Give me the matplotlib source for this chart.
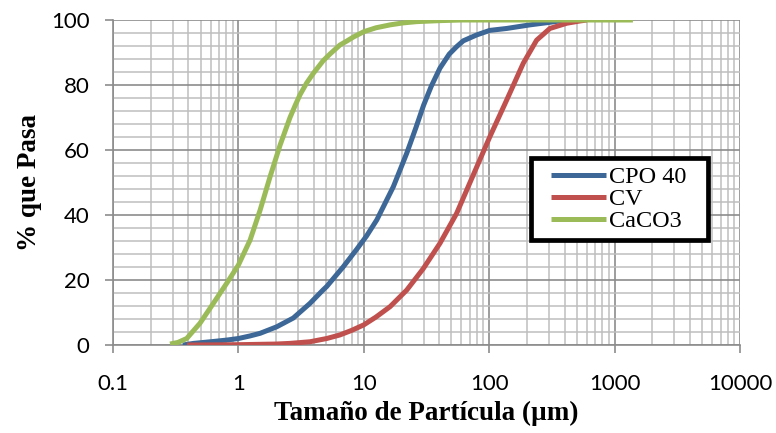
import matplotlib
matplotlib.use('Agg')
import matplotlib.pyplot as plt
from matplotlib.patches import Rectangle
from matplotlib.ticker import FixedLocator, LogLocator, NullFormatter

# Curvas granulométricas: tamaño (µm) y % que pasa
cpo_x = [0.36, 0.44, 0.6, 0.8, 1.0, 1.24, 1.49, 2.02, 2.74, 3.72, 4.75, 5.06,
         6.87, 8.8, 10.5, 12.7, 17.2, 22.0, 26.0, 30.0, 34.5, 40.5, 48, 55, 62.2,
         79.4, 101, 138, 211, 305, 400, 460]
cpo_y = [0, 0.5, 1.0, 1.5, 2.0, 2.8, 3.6, 5.6, 8.3, 12.8, 17.0, 18.0,
         24.1, 29.5, 33.5, 38.5, 48.7, 59.0, 66.8, 73.8, 79.6, 85.2, 89.5, 91.8, 93.6,
         95.4, 96.8, 97.4, 98.5, 99.3, 99.9, 100]

cv_x = [0.39, 1.0, 2.0, 2.58, 3.72, 5.06, 6.45, 8.0, 10.0, 12.5, 16.2, 22.0,
        29.8, 40.5, 55, 74.6, 101, 138, 187, 239, 305, 415, 530, 600]
cv_y = [0, 0.1, 0.3, 0.5, 1.0, 2.0, 3.1, 4.5, 6.2, 8.6, 11.8, 16.9,
        23.5, 31.3, 40.5, 52.3, 64.0, 75.4, 86.7, 93.8, 97.4, 99.0, 99.7, 100]

caco3_x = [0.285, 0.33, 0.387, 0.494, 0.631, 0.807, 1.0, 1.24, 1.49, 1.79,
           2.15, 2.58, 2.85, 3.1, 3.5, 3.96, 4.75, 5.4, 6.45, 7.3, 8.3, 10.0, 12.5,
           16.2, 20.5, 26.4, 40, 60, 100, 300, 800, 1400]
caco3_y = [0.3, 0.8, 2.0, 6.7, 12.8, 19.0, 24.6, 32.3, 41.5, 51.8,
           61.5, 70.0, 73.9, 77.0, 80.6, 83.6, 87.5, 89.6, 92.3, 93.5, 94.8, 96.4, 97.6,
           98.5, 99.1, 99.5, 99.8, 100, 100, 100, 100, 100]

series = [
    ('CPO 40', cpo_x, cpo_y, '#3C6796'),
    ('CV', cv_x, cv_y, '#C0504D'),
    ('CaCO3', caco3_x, caco3_y, '#9BBB59'),
]

fig = plt.figure(figsize=(7.76, 4.33), dpi=100)
ax = fig.add_axes([0.1456, 0.2032, 0.808, 0.7506])

for name, xs, ys, color in series:
    ax.plot(xs, ys, color=color, lw=3.6, label=name,
            solid_capstyle='butt', solid_joinstyle='round', zorder=3)

ax.set_xscale('log')
ax.set_xlim(0.1, 10000)
ax.set_ylim(0, 100)

ax.set_xticks([0.1, 1, 10, 100, 1000, 10000])
ax.set_xticklabels(['0.1', '1', '10', '100', '1000', '10000'])
ax.xaxis.set_minor_locator(LogLocator(base=10, subs=range(2, 10), numticks=20))
ax.xaxis.set_minor_formatter(NullFormatter())
ax.set_yticks(range(0, 101, 20))
ax.yaxis.set_minor_locator(FixedLocator([v for v in range(0, 101, 4) if v % 20]))

ax.grid(True, which='major', color='#8C8C8C', lw=1.2, zorder=0)
ax.grid(True, which='minor', color='#BEBEBE', lw=1.1, zorder=0)
ax.set_axisbelow(True)

for side in ['top', 'right']:
    ax.spines[side].set_visible(False)
for side in ['left', 'bottom']:
    ax.spines[side].set_color('#8C8C8C')
    ax.spines[side].set_linewidth(1.2)

ax.tick_params(axis='both', which='major', direction='out', length=6,
               color='#8C8C8C', width=1.2, labelsize=16)
ax.tick_params(axis='both', which='minor', length=0)
ax.tick_params(axis='y', pad=11)
ax.tick_params(axis='x', pad=15)
for lbl in ax.get_xticklabels() + ax.get_yticklabels():
    lbl.set_family('Lato')

ax.set_xlabel('Tamaño de Partícula (µm)', family='Liberation Serif',
              fontsize=19.5, fontweight='bold', labelpad=5)
ax.set_ylabel('% que Pasa', family='Liberation Serif',
              fontsize=19.5, fontweight='bold', labelpad=6)

# recuadro de la leyenda con borde grueso
ax.add_patch(Rectangle((0.667, 0.323), 0.282, 0.252, transform=ax.transAxes,
                       facecolor='white', edgecolor='black', lw=3.4,
                       clip_on=False, zorder=4))
leg = ax.legend(loc='center left', bbox_to_anchor=(0.699, 0.449),
                prop={'family': 'Liberation Serif', 'size': 17.5},
                frameon=False, handlelength=2.26, handletextpad=0.1,
                labelspacing=0.0, borderpad=0, borderaxespad=0)
leg.set_zorder(5)

fig.savefig('out.png', dpi=100)
